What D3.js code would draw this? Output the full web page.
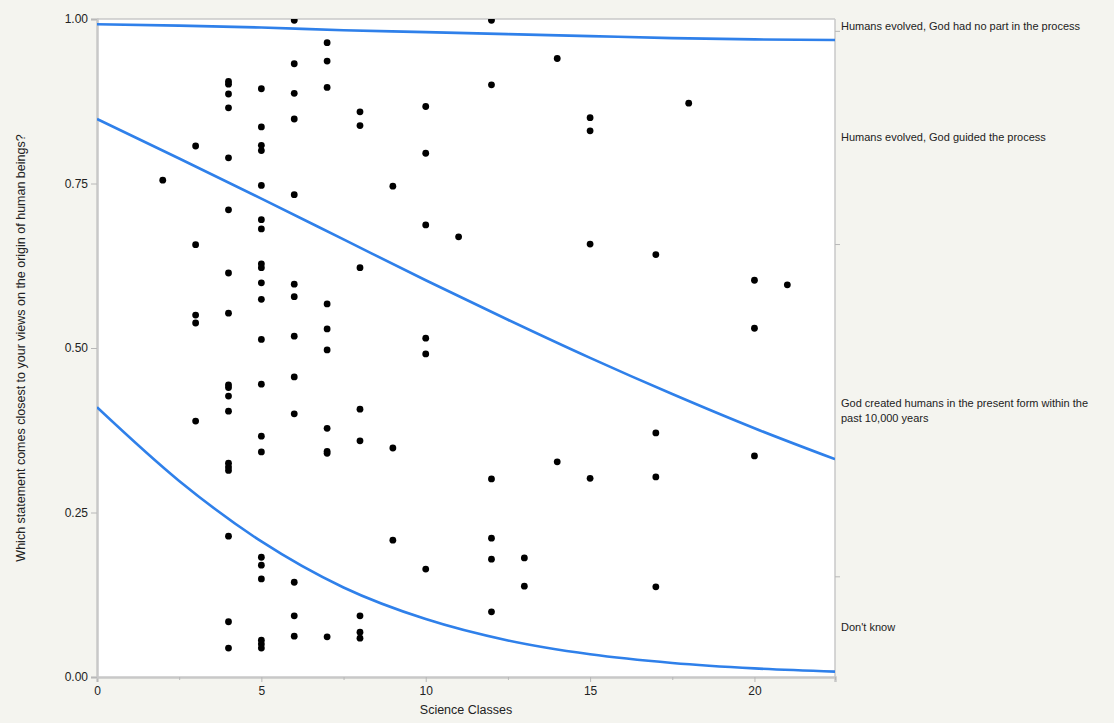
<!DOCTYPE html>
<html>
<head>
<meta charset="utf-8">
<script src="https://cdn.jsdelivr.net/npm/d3@7"></script>
<style>
  html, body { margin: 0; padding: 0; background: #f4f4ef; }
  svg { display: block; }
  text { font-family: "Liberation Sans", Arial, sans-serif; fill: #222; }
</style>
</head>
<body>
<svg id="chart" width="1114" height="723"></svg>
<script>
// ---- data ----
const scienceClasses = [
  2,
  3,3,3,3,3,
  4,4,4,4,4,4,4,4,4,4,4,4,4,4,4,4,4,4,
  5,5,5,5,5,5,5,5,5,5,5,5,5,5,5,5,5,5,5,5,5,
  6,6,6,6,6,6,6,6,6,6,6,6,6,
  7,7,7,7,7,7,7,7,7,7,
  8,8,8,8,8,8,8,8,
  9,9,9,
  10,10,10,10,10,10,
  11,
  12,12,12,12,12,12,
  13,13,
  14,14,
  15,15,15,15,
  17,17,17,17,
  18,
  20,20,20,
  21
];
const responseValue = [
  0.755,
  0.807,0.657,0.550,0.538,0.389,
  0.905,0.901,0.886,0.865,0.789,0.710,0.614,0.553,0.444,0.440,0.427,0.404,0.325,0.319,0.314,0.214,0.084,0.044,
  0.894,0.836,0.808,0.800,0.747,0.695,0.681,0.628,0.622,0.599,0.574,0.513,0.445,0.366,0.342,0.182,0.170,0.149,0.056,0.050,0.044,
  0.998,0.932,0.887,0.848,0.733,0.597,0.578,0.518,0.456,0.400,0.144,0.093,0.062,
  0.964,0.936,0.896,0.567,0.529,0.497,0.378,0.343,0.340,0.061,
  0.859,0.838,0.622,0.407,0.359,0.093,0.068,0.059,
  0.746,0.348,0.208,
  0.867,0.796,0.687,0.515,0.491,0.164,
  0.669,
  0.998,0.900,0.301,0.211,0.179,0.099,
  0.181,0.138,
  0.940,0.327,
  0.850,0.830,0.658,0.302,
  0.642,0.371,0.304,0.137,
  0.872,
  0.603,0.530,0.336,
  0.596
];

// fitted cumulative-probability curves (read at sample x positions)
const curveX      = [0,     2.5,   5,     7.5,   10,    12.5,  15,    17.5,  20,    22.45];
const curveTop    = [0.992, 0.990, 0.987, 0.983, 0.980, 0.977, 0.974, 0.971, 0.969, 0.968];
const curveMiddle = [0.848, 0.788, 0.727, 0.665, 0.603, 0.543, 0.485, 0.430, 0.378, 0.331];
const curveBottom = [0.410, 0.298, 0.206, 0.136, 0.088, 0.0555, 0.0345, 0.0213, 0.0131, 0.0082];

const xTicks = [0, 5, 10, 15, 20];
const xMinorTicks = [2.5, 7.5, 12.5, 17.5, 22.45];
const yTicks = [0, 0.25, 0.5, 0.75, 1.0];

const categoryLabels = [
  ["Humans evolved, God had no part in the process"],
  ["Humans evolved, God guided the process"],
  ["God created humans in the present form within the", "past 10,000 years"],
  ["Don't know"]
];
const categoryBounds = [1.0, 0.982, 0.658, 0.153, 0.0];
const xTitle = "Science Classes";
const yTitle = "Which statement comes closest to your views on the origin of human beings?";

// ---- layout ----
const svg = d3.select("#chart");
const L = 97, R = 835, T = 19, B = 677;

const x = d3.scaleLinear().domain([0, 22.45]).range([L, R]);
const y = d3.scaleLinear().domain([0, 1]).range([B, T]);

// plot background
svg.append("rect").attr("x", L).attr("y", T).attr("width", R - L).attr("height", B - T)
  .attr("fill", "#ffffff");

svg.append("clipPath").attr("id", "clip").append("rect")
  .attr("x", L).attr("y", T).attr("width", R - L).attr("height", B - T);

// frame (top and right)
svg.append("line").attr("x1", L).attr("x2", R).attr("y1", T).attr("y2", T)
  .attr("stroke", "#c8c8c8").attr("stroke-width", 1.5);
svg.append("line").attr("x1", R).attr("x2", R).attr("y1", T).attr("y2", B)
  .attr("stroke", "#c8c8c8").attr("stroke-width", 1.5);

// x axis
const xAxis = d3.axisBottom(x).tickValues(xTicks).tickFormat(d3.format("d")).tickSize(5).tickPadding(4);
const gx = svg.append("g").attr("transform", `translate(0,${B})`).call(xAxis);
gx.select(".domain").attr("stroke", "#c8c8c8").attr("stroke-width", 2.5);
gx.selectAll(".tick line").attr("stroke", "#b8b8b8").attr("stroke-width", 1);
gx.selectAll(".tick text").attr("font-size", 12).attr("fill", "#333")
  .attr("font-family", "Liberation Sans, Arial, sans-serif");
const xMinor = d3.axisBottom(x).tickValues(xMinorTicks).tickFormat("").tickSize(3);
const gxm = svg.append("g").attr("transform", `translate(0,${B})`).call(xMinor);
gxm.select(".domain").remove();
gxm.selectAll(".tick line").attr("stroke", "#b8b8b8");

// y axis
const yAxis = d3.axisLeft(y).tickValues(yTicks).tickFormat(d3.format(".2f")).tickSize(6).tickPadding(3);
const gy = svg.append("g").attr("transform", `translate(${L},0)`).call(yAxis);
gy.select(".domain").attr("stroke", "#c8c8c8").attr("stroke-width", 2.5);
gy.selectAll(".tick line").attr("stroke", "#b8b8b8");
gy.selectAll(".tick text").attr("font-size", 12).attr("fill", "#333")
  .attr("font-family", "Liberation Sans, Arial, sans-serif");

// right axis (category boundaries)
const rightTicks = categoryBounds.slice(1, 4);
const yr = d3.axisRight(y).tickValues(rightTicks).tickFormat("").tickSize(5);
const gr = svg.append("g").attr("transform", `translate(${R},0)`).call(yr);
gr.select(".domain").remove();
gr.selectAll(".tick line").attr("stroke", "#b8b8b8");

// category labels
categoryLabels.forEach((lines, i) => {
  const top = categoryBounds[i], bot = categoryBounds[i + 1];
  const mid = i === 0 ? top : (top + bot) / 2;
  const yc = y(mid);
  const lh = 15;
  const t = svg.append("text").attr("x", R + 6).attr("font-size", 11).attr("fill", "#222");
  const y0 = i === 0 ? yc + 11 : yc - (lines.length - 1) * lh / 2 + 4;
  lines.forEach((ln, k) => {
    t.append("tspan").attr("x", R + 6).attr("y", y0 + k * lh).text(ln);
  });
});

// curves
const plot = svg.append("g").attr("clip-path", "url(#clip)");
const line = d3.line().x(d => x(d[0])).y(d => y(d[1])).curve(d3.curveMonotoneX);
[curveTop, curveMiddle, curveBottom].forEach(vals => {
  plot.append("path")
    .datum(curveX.map((cx, i) => [cx, vals[i]]))
    .attr("d", line)
    .attr("fill", "none")
    .attr("stroke", "#2f80ea")
    .attr("stroke-width", 2.6);
});

// points
plot.selectAll("circle.pt")
  .data(scienceClasses.map((c, i) => [c, responseValue[i]]))
  .join("circle")
  .attr("class", "pt")
  .attr("cx", d => x(d[0]))
  .attr("cy", d => y(d[1]))
  .attr("r", 3.4)
  .attr("fill", "#000");

// titles
svg.append("text").attr("x", (L + R) / 2 + 0).attr("y", 714).attr("text-anchor", "middle")
  .attr("font-size", 12.5).text(xTitle);
svg.append("text").attr("transform", `translate(25,${(T + B) / 2}) rotate(-90)`)
  .attr("text-anchor", "middle").attr("font-size", 12.5).text(yTitle);
</script>
</body>
</html>
